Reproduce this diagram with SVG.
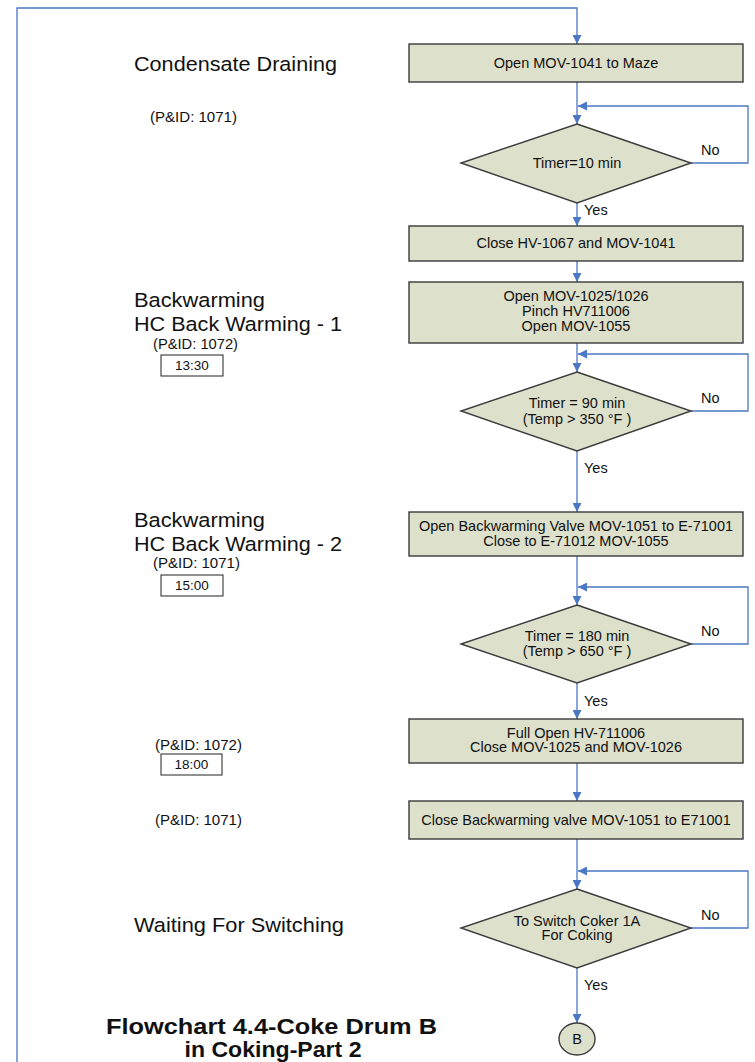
<svg xmlns="http://www.w3.org/2000/svg" width="755" height="1062" viewBox="0 0 755 1062">
  <style>
    text { font-family: "Liberation Sans", Arial, sans-serif; fill: #111; }
    .step { fill: #dde0cb; stroke: #3a3a3a; stroke-width: 1.4; }
    .conn { fill: none; stroke: #4a78c4; stroke-width: 1.3; }
    .box-t { font-size: 14.5px; text-anchor: middle; }
    .lbl { font-size: 14.5px; }
    .head { font-size: 20.5px; }
    .pid { font-size: 14px; }
    .clock { font-size: 13.5px; text-anchor: middle; }
    .time { fill: #fff; stroke: #222; stroke-width: 1; }
    .title { font-size: 22px; font-weight: bold; text-anchor: middle; }
  </style>
  <defs>
    <marker id="arr" viewBox="0 0 10 10" refX="10" refY="5" markerWidth="9" markerHeight="9" markerUnits="userSpaceOnUse" orient="auto">
      <path d="M0,0 L10,5 L0,10 z" fill="#4a78c4"/>
    </marker>
  </defs>
  <rect width="755" height="1062" fill="#fff"/>

  <!-- connectors -->
  <g id="connectors">
    <path class="conn" d="M17,1062 V8 H577 V44" marker-end="url(#arr)"/>
    <path class="conn" d="M577,82 V124" marker-end="url(#arr)"/>
    <path class="conn" d="M691,163 H748 V106 H578" marker-end="url(#arr)"/>
    <path class="conn" d="M577,203 V226" marker-end="url(#arr)"/>
    <path class="conn" d="M577,261 V282" marker-end="url(#arr)"/>
    <path class="conn" d="M577,343 V372" marker-end="url(#arr)"/>
    <path class="conn" d="M691,411 H748 V354 H578" marker-end="url(#arr)"/>
    <path class="conn" d="M577,451 V512" marker-end="url(#arr)"/>
    <path class="conn" d="M577,556 V605" marker-end="url(#arr)"/>
    <path class="conn" d="M691,644 H748 V587 H578" marker-end="url(#arr)"/>
    <path class="conn" d="M577,683 V719" marker-end="url(#arr)"/>
    <path class="conn" d="M577,763 V801" marker-end="url(#arr)"/>
    <path class="conn" d="M577,839 V889" marker-end="url(#arr)"/>
    <path class="conn" d="M691,928 H748 V871 H578" marker-end="url(#arr)"/>
    <path class="conn" d="M577,968 V1023" marker-end="url(#arr)"/>
  </g>

  <!-- connector labels -->
  <g id="branch-labels" class="lbl">
    <text x="701" y="155">No</text>
    <text x="584" y="215">Yes</text>
    <text x="701" y="403">No</text>
    <text x="584" y="473">Yes</text>
    <text x="701" y="636">No</text>
    <text x="584" y="706">Yes</text>
    <text x="701" y="920">No</text>
    <text x="584" y="990">Yes</text>
  </g>

  <g id="open-mov1041">
    <rect class="step" x="409" y="44" width="334" height="38"/>
    <text class="box-t" x="576" y="68">Open MOV-1041 to Maze</text>
  </g>

  <g id="timer-10">
    <polygon class="step" points="577,124 691,163 577,203 461,163"/>
    <text class="box-t" x="577" y="168">Timer=10 min</text>
  </g>

  <g id="close-hv1067">
    <rect class="step" x="409" y="226" width="334" height="35"/>
    <text class="box-t" x="576" y="248">Close HV-1067 and MOV-1041</text>
  </g>

  <g id="open-mov1025">
    <rect class="step" x="409" y="282" width="334" height="61"/>
    <text class="box-t" x="576" y="301">Open MOV-1025/1026</text>
    <text class="box-t" x="576" y="316">Pinch HV711006</text>
    <text class="box-t" x="576" y="331">Open MOV-1055</text>
  </g>

  <g id="timer-90">
    <polygon class="step" points="577,372 691,411 577,451 461,411"/>
    <text class="box-t" x="577" y="408">Timer = 90 min</text>
    <text class="box-t" x="577" y="424">(Temp &gt; 350 °F )</text>
  </g>

  <g id="open-mov1051">
    <rect class="step" x="409" y="512" width="334" height="44"/>
    <text class="box-t" x="576" y="531">Open Backwarming Valve MOV-1051 to E-71001</text>
    <text class="box-t" x="576" y="546">Close to E-71012 MOV-1055</text>
  </g>

  <g id="timer-180">
    <polygon class="step" points="577,605 691,644 577,683 461,644"/>
    <text class="box-t" x="577" y="641">Timer = 180 min</text>
    <text class="box-t" x="577" y="656">(Temp &gt; 650 °F )</text>
  </g>

  <g id="full-open-hv711006">
    <rect class="step" x="409" y="719" width="334" height="44"/>
    <text class="box-t" x="576" y="738">Full Open HV-711006</text>
    <text class="box-t" x="576" y="752">Close MOV-1025 and MOV-1026</text>
  </g>

  <g id="close-mov1051">
    <rect class="step" x="409" y="801" width="334" height="38"/>
    <text class="box-t" x="576" y="825">Close Backwarming valve MOV-1051 to E71001</text>
  </g>

  <g id="switch-coker">
    <polygon class="step" points="577,889 691,928 577,968 461,928"/>
    <text class="box-t" x="577" y="926">To Switch Coker 1A</text>
    <text class="box-t" x="577" y="940">For Coking</text>
  </g>

  <g id="connector-b">
    <ellipse class="step" cx="577" cy="1039" rx="18" ry="16"/>
    <text class="box-t" x="577" y="1044">B</text>
  </g>

  <!-- stage headings on the left -->
  <g id="stage-condensate">
    <text class="head" x="134" y="71" textLength="203" lengthAdjust="spacingAndGlyphs">Condensate Draining</text>
    <text class="pid" x="150" y="122" textLength="87" lengthAdjust="spacingAndGlyphs">(P&amp;ID: 1071)</text>
  </g>

  <g id="stage-backwarming-1">
    <text class="head" x="134" y="307" textLength="131" lengthAdjust="spacingAndGlyphs">Backwarming</text>
    <text class="head" x="134" y="330.5" textLength="208" lengthAdjust="spacingAndGlyphs">HC Back Warming - 1</text>
    <text class="pid" x="153" y="349" textLength="85" lengthAdjust="spacingAndGlyphs">(P&amp;ID: 1072)</text>
    <rect class="time" x="161" y="355" width="62" height="21"/>
    <text class="clock" x="192" y="370">13:30</text>
  </g>

  <g id="stage-backwarming-2">
    <text class="head" x="134" y="527" textLength="131" lengthAdjust="spacingAndGlyphs">Backwarming</text>
    <text class="head" x="134" y="550.5" textLength="208" lengthAdjust="spacingAndGlyphs">HC Back Warming - 2</text>
    <text class="pid" x="153" y="568" textLength="87" lengthAdjust="spacingAndGlyphs">(P&amp;ID: 1071)</text>
    <rect class="time" x="161" y="575" width="62" height="21"/>
    <text class="clock" x="192" y="590">15:00</text>
  </g>

  <g id="stage-full-open">
    <text class="pid" x="155" y="750" textLength="87" lengthAdjust="spacingAndGlyphs">(P&amp;ID: 1072)</text>
    <rect class="time" x="161" y="754" width="61" height="21"/>
    <text class="clock" x="191.5" y="769">18:00</text>
  </g>

  <g id="stage-close-backwarming">
    <text class="pid" x="155" y="825" textLength="87" lengthAdjust="spacingAndGlyphs">(P&amp;ID: 1071)</text>
  </g>

  <g id="stage-waiting">
    <text class="head" x="134" y="932" textLength="210" lengthAdjust="spacingAndGlyphs">Waiting For Switching</text>
  </g>

  <g id="title">
    <text class="title" x="271.5" y="1034" textLength="331" lengthAdjust="spacingAndGlyphs">Flowchart 4.4-Coke Drum B</text>
    <text class="title" x="273" y="1057" textLength="177" lengthAdjust="spacingAndGlyphs">in Coking-Part 2</text>
  </g>
</svg>
